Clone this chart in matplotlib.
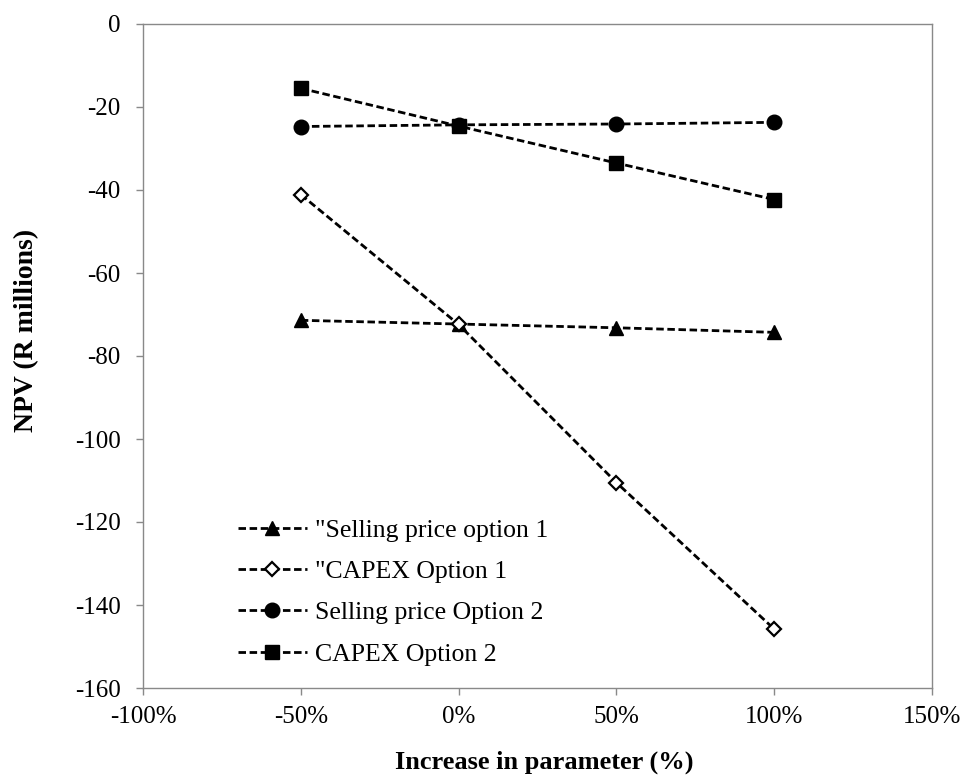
import numpy as np
import matplotlib
matplotlib.use('Agg')
import matplotlib.pyplot as plt
from matplotlib.ticker import FuncFormatter

plt.rcParams['font.family'] = ['Liberation Serif', 'DejaVu Serif']
plt.rcParams['axes.unicode_minus'] = False

# data
x = [-50, 0, 50, 100]
sell1 = [-71.4, -72.3, -73.2, -74.3]
capex1 = [-41.1, -72.4, -110.5, -145.8]
sell2 = [-24.7, -24.3, -24.1, -23.7]
capex2 = [-15.5, -24.6, -33.5, -42.3]
labels = ['"Selling price option 1', '"CAPEX Option 1',
          'Selling price Option 2', 'CAPEX Option 2']

fig = plt.figure(figsize=(9.63, 7.75), dpi=100)
ax = fig.add_axes([143/963, 1-688/775, (932-143)/963, (688-24)/775])

ls = (0, (2.7, 1.3))
kw = dict(color='black', lw=2, linestyle=ls)
ax.plot(x, sell1, marker='^', ms=10.5, mfc='black', mec='black', label=labels[0], **kw)
ax.plot(x, capex1, marker='D', ms=7.5, mfc='white', mec='black', mew=1.6, label=labels[1], **kw)
ax.plot(x, sell2, marker='o', ms=10.5, mfc='black', mec='black', label=labels[2], **kw)
ax.plot(x, capex2, marker='s', ms=10, mfc='black', mec='black', label=labels[3], **kw)

ax.set_xlim(-100, 150)
ax.set_ylim(-160, 0)
ax.set_xticks(np.arange(-100, 151, 50))
ax.set_yticks(np.arange(-160, 1, 20))
ax.xaxis.set_major_formatter(FuncFormatter(lambda v, p: '%d%%' % v))

for s in ax.spines.values():
    s.set_color('#898989')
    s.set_linewidth(1.0)
ax.tick_params(direction='out', length=5, width=1.0, color='#898989',
               labelsize=18)
ax.tick_params(axis='y', pad=11)
ax.tick_params(axis='x', pad=8)

ax.set_xlabel('Increase in parameter (%)', fontsize=19, fontweight='bold')
ax.set_ylabel('NPV (R millions)', fontsize=20, fontweight='bold')
ax.xaxis.set_label_coords(0.509, -0.094)
ax.yaxis.set_label_coords(-0.132, 0.539)

ax.legend(loc='upper left', bbox_to_anchor=(238/963, 1-519/775),
          bbox_transform=fig.transFigure, frameon=False, fontsize=18.5,
          handlelength=2.68, handletextpad=0.31, labelspacing=0.71,
          borderpad=0, borderaxespad=0, numpoints=1)

fig.savefig('out.png', dpi=100)
